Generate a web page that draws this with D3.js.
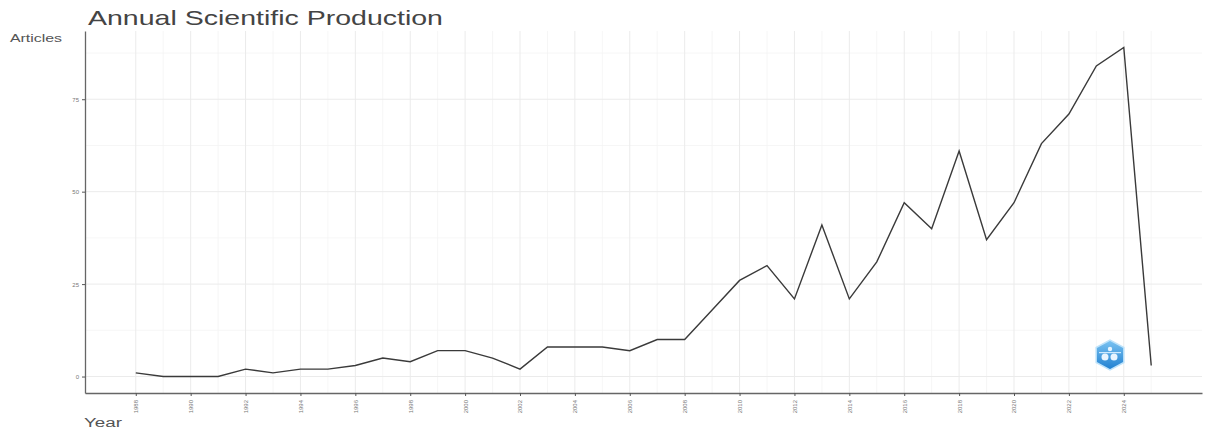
<!DOCTYPE html>
<html>
<head>
<meta charset="utf-8">
<script src="https://cdn.jsdelivr.net/npm/d3@7"></script>
<style>
  body { margin: 0; background: #fff; }
  svg { display: block; font-family: "Liberation Sans", Arial, sans-serif; }
</style>
</head>
<body>
<div id="chart"></div>
<script>
const years = d3.range(1988, 2026);
const articles = [1, 0, 0, 0, 2, 1, 2, 2, 3, 5, 4, 7, 7, 5, 2, 8, 8, 8, 7, 10,
  10, 18, 26, 30, 21, 41, 21, 31, 47, 40, 61, 37, 47, 63, 71, 84, 89, 3];
const xTicks = d3.range(1988, 2025, 2);
const yTicks = [0, 25, 50, 75];

const data = years.map((y, i) => ({ year: y, n: articles[i] }));

const width = 1208;
const height = 433;
const margin = { top: 31, right: 6, bottom: 40, left: 85 };

// ggplot-style 5% expansion
const xr = d3.extent(years), xpad = (xr[1] - xr[0]) * 0.05;
const yr = d3.extent(articles), ypad = (yr[1] - yr[0]) * 0.05;

const x = d3.scaleLinear()
  .domain([xr[0] - xpad, xr[1] + xpad])
  .range([margin.left, width - margin.right]);

const y = d3.scaleLinear()
  .domain([yr[0] - ypad, yr[1] + ypad])
  .range([height - margin.bottom, margin.top]);

const svg = d3.select("#chart")
  .append("svg")
    .attr("width", width)
    .attr("height", height);

// grid
const grid = svg.append("g");
const xMinor = d3.range(1989, 2026, 2);
const yMinor = [12.5, 37.5, 62.5, 87.5];

grid.selectAll(".vmin").data(xMinor).join("line")
  .attr("x1", d => x(d)).attr("x2", d => x(d))
  .attr("y1", margin.top).attr("y2", height - margin.bottom)
  .attr("stroke", "#f4f4f4").attr("stroke-width", 0.8);
grid.selectAll(".hmin").data(yMinor).join("line")
  .attr("y1", d => y(d)).attr("y2", d => y(d))
  .attr("x1", margin.left).attr("x2", width - margin.right)
  .attr("stroke", "#f4f4f4").attr("stroke-width", 0.8);
grid.selectAll(".vmaj").data(xTicks).join("line")
  .attr("x1", d => x(d)).attr("x2", d => x(d))
  .attr("y1", margin.top).attr("y2", height - margin.bottom)
  .attr("stroke", "#ebebeb").attr("stroke-width", 1);
grid.selectAll(".hmaj").data(yTicks).join("line")
  .attr("y1", d => y(d)).attr("y2", d => y(d))
  .attr("x1", margin.left).attr("x2", width - margin.right)
  .attr("stroke", "#ebebeb").attr("stroke-width", 1);

// axes
const xAxis = svg.append("g")
  .attr("transform", `translate(0,${height - margin.bottom})`)
  .call(d3.axisBottom(x).tickValues(xTicks).tickFormat(d3.format("d")).tickSize(3).tickSizeOuter(0));
xAxis.select(".domain").attr("stroke", "#666").attr("stroke-width", 1.3);
xAxis.selectAll(".tick line").attr("stroke", "#555");
xAxis.selectAll(".tick text")
  .attr("fill", "#777")
  .attr("font-size", 6)
  .attr("transform", "rotate(-90)")
  .attr("text-anchor", "end")
  .attr("x", -7)
  .attr("y", 0)
  .attr("dy", "0.32em");

const yAxis = svg.append("g")
  .attr("transform", `translate(${margin.left},0)`)
  .call(d3.axisLeft(y).tickValues(yTicks).tickSize(3).tickSizeOuter(0));
yAxis.select(".domain").attr("stroke", "#666").attr("stroke-width", 1.3);
yAxis.selectAll(".tick line").attr("stroke", "#555");
yAxis.selectAll(".tick text").attr("fill", "#777").attr("font-size", 6);

// line
svg.append("path")
  .datum(data)
  .attr("fill", "none")
  .attr("stroke", "#3a3a3a")
  .attr("stroke-width", 1.4)
  .attr("d", d3.line().x(d => x(d.year)).y(d => y(d.n)));

// titles (source image is stretched horizontally)
svg.append("text")
  .attr("x", 88).attr("y", 25)
  .attr("font-size", 21)
  .attr("fill", "#444")
  .attr("textLength", 355)
  .attr("lengthAdjust", "spacingAndGlyphs")
  .text("Annual Scientific Production");

svg.append("text")
  .attr("x", 10).attr("y", 42)
  .attr("font-size", 11)
  .attr("fill", "#555")
  .attr("textLength", 52)
  .attr("lengthAdjust", "spacingAndGlyphs")
  .text("Articles");

svg.append("text")
  .attr("x", 84).attr("y", 427)
  .attr("font-size", 12)
  .attr("fill", "#555")
  .attr("textLength", 38)
  .attr("lengthAdjust", "spacingAndGlyphs")
  .text("Year");

// logo (hexagon badge)
const logo = svg.append("g").attr("transform", "translate(1110,355)");
const defs = svg.append("defs");
const grad = defs.append("linearGradient").attr("id", "lg").attr("x1", 0).attr("y1", 0).attr("x2", 0).attr("y2", 1);
grad.append("stop").attr("offset", "0%").attr("stop-color", "#7cc4f2");
grad.append("stop").attr("offset", "100%").attr("stop-color", "#1f7fd0");
const hex = d3.range(6).map(i => {
  const a = Math.PI / 3 * i + Math.PI / 6;
  return [Math.cos(a) * 16, Math.sin(a) * 15];
});
logo.append("polygon")
  .attr("points", hex.map(p => p.join(",")).join(" "))
  .attr("fill", "url(#lg)")
  .attr("stroke", "#bfe3fa")
  .attr("stroke-width", 1.5);
logo.append("circle").attr("cx", -5).attr("cy", 2).attr("r", 3.5).attr("fill", "#e8f5ff");
logo.append("circle").attr("cx", 4).attr("cy", 2).attr("r", 3.5).attr("fill", "#e8f5ff");
logo.append("circle").attr("cx", 0).attr("cy", -6).attr("r", 2.2).attr("fill", "#e8f5ff");
logo.append("rect").attr("x", -11).attr("y", -3).attr("width", 22).attr("height", 1.2).attr("fill", "#cdeaff");
</script>
</body>
</html>
